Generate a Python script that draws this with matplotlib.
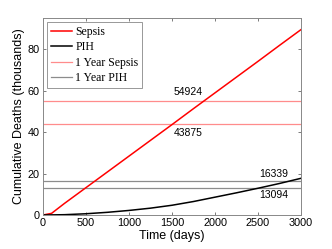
import matplotlib
matplotlib.use("Agg")
import matplotlib.pyplot as plt
from matplotlib.lines import Line2D

days = [0, 100, 250, 500, 750, 1000, 1250, 1500, 1750, 2000, 2250, 2500, 2750, 3000]
sepsis = [0, 0.8, 5.6, 13.2, 20.8, 28.4, 36.0, 43.6, 51.3, 58.9, 66.5, 74.1, 81.8, 89.4]
pih = [0, 0.05, 0.15, 0.6, 1.3, 2.2, 3.3, 4.7, 6.5, 8.6, 10.7, 12.9, 15.2, 17.7]
year_sepsis = [54924, 43875]
year_pih = [16339, 13094]
legend_labels = ["Sepsis", "PIH", "1 Year Sepsis", "1 Year PIH"]
xticks = [0, 500, 1000, 1500, 2000, 2500, 3000]
yticks = [0, 20, 40, 60, 80]

fig = plt.figure(figsize=(3.32, 2.49), dpi=100)
ax = fig.add_axes([43/332, 34/249, 258/332, 197/249])

c_ys = "#ff8c8c"
c_yp = "#8c8c8c"
for v in year_sepsis:
    ax.axhline(v / 1000, color=c_ys, lw=0.9)
for v in year_pih:
    ax.axhline(v / 1000, color=c_yp, lw=0.9)
ax.plot(days, sepsis, color="#ff0000", lw=1.1)
ax.plot(days, pih, color="black", lw=1.1)

sans = "Liberation Sans"
fs_ann = 7.5
ax.text(1520, year_sepsis[0] / 1000 + 2.0, str(year_sepsis[0]), fontsize=fs_ann, family=sans, va="bottom", ha="left")
ax.text(1520, year_sepsis[1] / 1000 - 2.0, str(year_sepsis[1]), fontsize=fs_ann, family=sans, va="top", ha="left")
ax.text(2510, year_pih[0] / 1000 + 0.8, str(year_pih[0]), fontsize=fs_ann, family=sans, va="bottom", ha="left")
ax.text(2510, year_pih[1] / 1000 - 1.0, str(year_pih[1]), fontsize=fs_ann, family=sans, va="top", ha="left")

ax.set_xlim(0, 3000)
ax.set_ylim(0, 95)
ax.set_xticks(xticks)
ax.set_yticks(yticks)
ax.tick_params(direction="in", top=True, right=True, length=2.5, width=0.6,
               color="#666666", labelsize=7.8, pad=2.5)
for lab in ax.get_xticklabels() + ax.get_yticklabels():
    lab.set_family(sans)
for s in ax.spines.values():
    s.set_color("#888888")
    s.set_linewidth(0.7)
ax.set_xlabel("Time (days)", fontsize=9, family=sans, labelpad=1)
ax.set_ylabel("Cumulative Deaths (thousands)", fontsize=9, family=sans, labelpad=2)

handles = [Line2D([], [], color="#ff0000", lw=1.1), Line2D([], [], color="black", lw=1.1),
           Line2D([], [], color=c_ys, lw=0.9), Line2D([], [], color=c_yp, lw=0.9)]
leg = ax.legend(handles, legend_labels, loc="upper left", prop={"family": "Liberation Serif", "size": 8.5},
                fancybox=False, framealpha=1, edgecolor="#888888", handlelength=1.8, handletextpad=0.3,
                borderpad=0.3, labelspacing=0.3, borderaxespad=0.35)
leg.get_frame().set_linewidth(0.6)

fig.savefig("out.png", dpi=100)
